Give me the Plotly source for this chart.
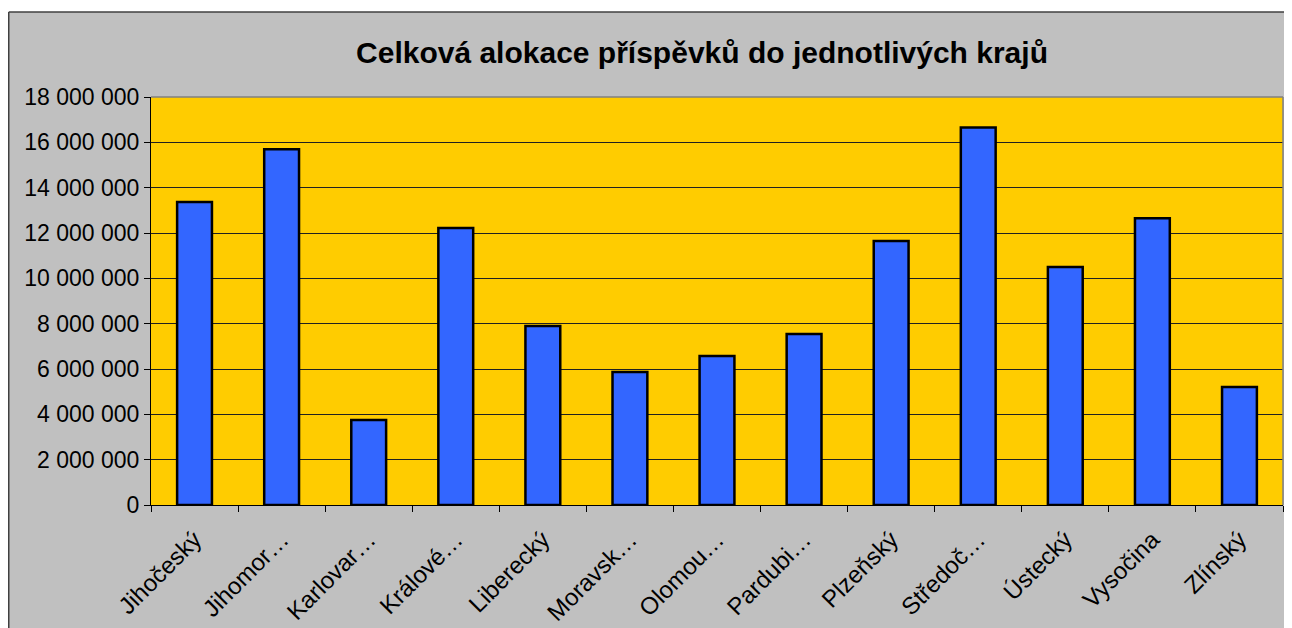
import plotly.graph_objects as go

categories = ["Jihočeský", "Jihomor…", "Karlovar…", "Králové…", "Liberecký", "Moravsk…",
              "Olomou…", "Pardubi…", "Plzeňský", "Středoč…", "Ústecký", "Vysočina", "Zlínský"]
values = [13370000, 15700000, 3750000, 12220000, 7900000, 5870000,
          6570000, 7540000, 11650000, 16650000, 10500000, 12650000, 5210000]
y_ticks = [0, 2000000, 4000000, 6000000, 8000000, 10000000, 12000000, 14000000, 16000000, 18000000]

# figure is placed at an 8px page offset (default body margin)
W, H = 1284, 620
L, R, T, B = 143, 9, 89, 123
pw, ph = W - L - R, H - T - B

def px(x):
    return (x - L) / pw

def py(y):
    return (H - B - y) / ph

fig = go.Figure()
fig.add_trace(go.Bar(
    x=categories, y=values,
    marker=dict(color="#3366FF", line=dict(color="#000000", width=2.5)),
    width=0.4,
))

font = "Liberation Sans, Arial, sans-serif"
fig.update_layout(
    width=W, height=H,
    margin=dict(l=L, r=R, t=T, b=B, autoexpand=False),
    paper_bgcolor="#C0C0C0",
    plot_bgcolor="#FFCC00",
    separators=", ",
    showlegend=False,
    font=dict(family=font, size=23, color="#000000"),
    title=dict(text="<b>Celková alokace příspěvků do jednotlivých krajů</b>",
               font=dict(family=font, size=30, color="#000000"),
               x=px(694), xanchor="center", xref="paper",
               y=1 - 44 / H, yanchor="middle", yref="container"),
    xaxis=dict(
        showline=True, linecolor="#000000", linewidth=1,
        ticks="outside", ticklen=6, tickcolor="#000000", tickson="boundaries",
        tickangle=-45, tickfont=dict(family=font, size=24),
        ticklabelstandoff=10,
        showgrid=False, mirror=False,
    ),
    yaxis=dict(
        range=[0, 18000000], tickvals=y_ticks, tickformat=",d",
        showline=True, linecolor="#000000", linewidth=1,
        ticks="outside", ticklen=6, tickcolor="#000000",
        showgrid=True, gridcolor="#202020", gridwidth=1.2,
        tickfont=dict(family=font, size=23),
        zeroline=False,
    ),
)

shapes = [
    # white strip above the chart area
    dict(type="rect", xref="paper", yref="paper", x0=px(-20), x1=px(W + 20), y0=py(4), y1=py(-20),
         fillcolor="#FFFFFF", line=dict(width=0), layer="below"),
    # chart area border
    dict(type="line", xref="paper", yref="paper", x0=px(0.75), x1=px(W + 20), y0=py(4), y1=py(4),
         line=dict(color="#404040", width=1.5)),
    dict(type="line", xref="paper", yref="paper", x0=px(0.75), x1=px(0.75), y0=py(4), y1=py(H + 20),
         line=dict(color="#404040", width=1.5)),
    # plot area border (top/right)
    dict(type="line", xref="paper", yref="paper", x0=0, x1=1, y0=1, y1=1,
         line=dict(color="#808080", width=1.5)),
    dict(type="line", xref="paper", yref="paper", x0=1, x1=1, y0=0, y1=1,
         line=dict(color="#808080", width=1.5)),
]
fig.update_layout(shapes=shapes)

fig.write_html("out.html")
